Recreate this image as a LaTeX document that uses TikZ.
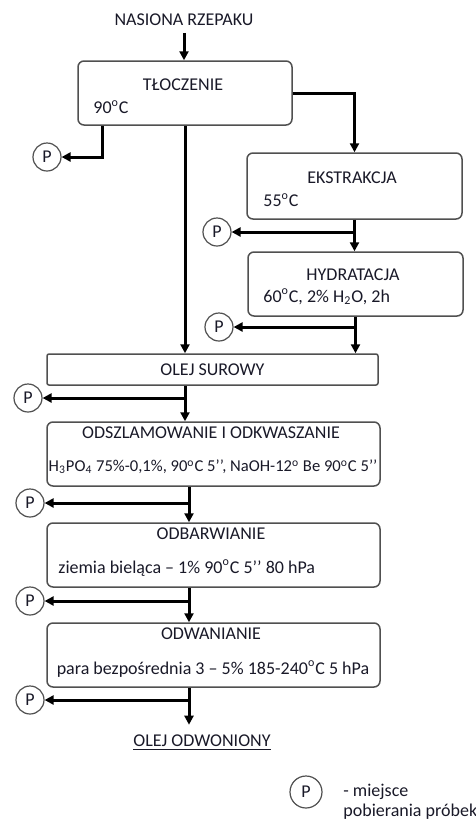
\documentclass[tikz,border=0pt]{standalone}
\usepackage{fontspec}
\setmainfont{Carlito}
\usetikzlibrary{arrows.meta}
\definecolor{boxgray}{RGB}{80,80,80}
\definecolor{ink}{RGB}{25,25,40}
\newcommand{\st}{\textsuperscript{o}}

\begin{document}
\begin{tikzpicture}[x=0.5pt,y=-0.5pt,font=\fontsize{9}{11}\selectfont,text=ink,
    box/.style={draw=boxgray,line width=0.75pt,rounded corners=3pt,inner sep=0pt},
    pcirc/.style={circle,draw=boxgray,line width=0.6pt,minimum size=14pt,inner sep=0pt},
    flow/.style={line width=1.5pt,-{Triangle[length=4.5pt,width=4.5pt]}}]
            \useasboundingbox (0,0) rectangle (476,821);
            % boxes
            \node[box,minimum width=107pt,minimum height=32pt] (tlo) at (185,93) {};
            \node[box,minimum width=107.5pt,minimum height=33pt] (ekst) at (354.5,186) {};
            \node[box,minimum width=107.5pt,minimum height=32pt] (hydr) at (355.5,284) {};
            \node[box,rounded corners=1pt,minimum width=165.5pt,minimum height=15.5pt] (sur) at (212.5,369.5) {OLEJ SUROWY};
            \node[box,minimum width=166.5pt,minimum height=32pt] (odsz) at (213.5,454) {};
            \node[box,minimum width=166.5pt,minimum height=32pt] (odbar) at (213.5,555) {};
            \node[box,minimum width=166.5pt,minimum height=32pt] (odwan) at (213.5,655) {};
            % texts
            \node (start) at (184,20) {NASIONA RZEPAKU};
            \node at (183,85) {TŁOCZENIE};
            \node[anchor=west,inner sep=0pt] at (93,107) {90\st C};
            \node at (352,178) {EKSTRAKCJA};
            \node[anchor=west,inner sep=0pt] at (263,200) {55\st C};
            \node at (353,275) {HYDRATACJA};
            \node[anchor=west,inner sep=0pt] at (263,297) {60\st C, 2\% H\textsubscript{2}O, 2h};
            \node at (211,433) {ODSZLAMOWANIE I ODKWASZANIE};
            \node[font=\fontsize{8.3}{10}\selectfont] at (213,467) {H\textsubscript{3}PO\textsubscript{4} 75\%-0,1\%, 90\st C 5’’, NaOH-12\st\ Be 90\st C 5’’};
            \node at (211,534) {ODBARWIANIE};
            \node[anchor=west,inner sep=0pt] at (58,568) {ziemia bieląca – 1\% 90\st C 5’’ 80 hPa};
            \node at (211,634) {ODWANIANIE};
            \node at (213,669) {para bezpośrednia 3 – 5\% 185-240\st C 5 hPa};
            \node[inner sep=5pt] (fin) at (202,743) {\underline{OLEJ ODWONIONY}};
            % sampling points
            \node[pcirc] (p1) at (47,157) {P};
            \node[pcirc] (p2) at (217,232) {P};
            \node[pcirc] (p3) at (219,327) {P};
            \node[pcirc] (p4) at (28,398) {P};
            \node[pcirc] (p5) at (30,503) {P};
            \node[pcirc] (p6) at (30,601) {P};
            \node[pcirc] (p7) at (30,700) {P};
            \node[pcirc,minimum size=16pt] (pl) at (306,792) {P};
            \node[anchor=west,inner sep=0pt] at (343,792) {- miejsce};
            \node[anchor=west,inner sep=0pt] at (343,812) {pobierania próbek};
            \coordinate (mid) at (189,0);
            % flow
            \draw[flow](start.south)--(start.south |- tlo.north);
            \draw[flow](tlo.south west)++(25,0)|-(p1);
            \draw[flow](tlo.south)--(tlo.south |- sur.north);
            \draw[flow](tlo.east)-|(ekst.north);
            \draw[flow](ekst.south)--(ekst.south |- hydr.north);
            \draw[flow](ekst.south |- p2)--(p2);
            \draw[flow](hydr.south)--(hydr.south |- sur.north);
            \draw[flow](hydr.south |- p3)--(p3);
            \draw[flow](tlo.south |- sur.south)--(tlo.south |- odsz.north);
            \draw[flow](tlo.south |- p4)--(p4);
            \draw[flow](mid |- odsz.south)--(mid |- odbar.north);
            \draw[flow](mid |- p5)--(p5);
            \draw[flow](mid |- odbar.south)--(mid |- odwan.north);
            \draw[flow](mid |- p6)--(p6);
            \draw[flow](mid |- odwan.south)--(mid |- fin.north);
            \draw[flow](mid |- p7)--(p7);
\end{tikzpicture}
\end{document}
